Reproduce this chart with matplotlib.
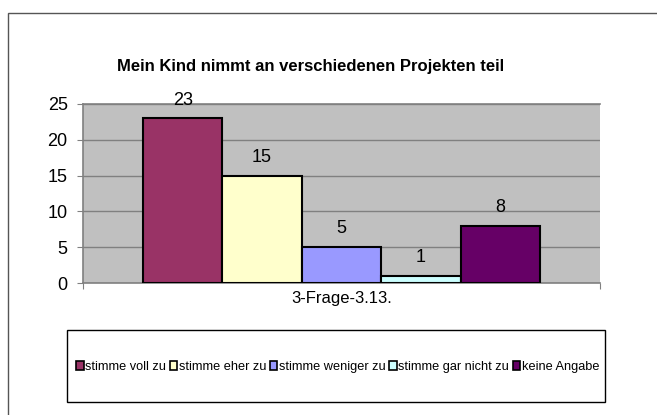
import matplotlib
matplotlib.use("Agg")
import matplotlib.pyplot as plt
from matplotlib.patches import Rectangle, Patch

plt.rcParams["font.family"] = ["Liberation Sans", "DejaVu Sans"]

# Daten aus der Vorlage
title = "Mein Kind nimmt an verschiedenen Projekten teil"
category = "3-Frage-3.13."
answers = ["stimme voll zu", "stimme eher zu", "stimme weniger zu",
           "stimme gar nicht zu", "keine Angabe"]
counts = [23, 15, 5, 1, 8]
colors = ["#993366", "#FFFFCC", "#9999FF", "#CCFFFF", "#660066"]
yticks = [0, 5, 10, 15, 20, 25]

W, H = 657, 415
fig = plt.figure(figsize=(W / 100, H / 100), dpi=100)

# äußerer Rahmen des Diagramms (rechts/unten abgeschnitten)
fig.patches.append(Rectangle((8 / W, -0.1), 1.2, (H - 13) / H + 0.1,
                             transform=fig.transFigure, fill=False,
                             edgecolor="#555555", linewidth=1.0))

ax = fig.add_axes([83 / W, (H - 283) / H, (600 - 83) / W, (283 - 104) / H])
ax.set_facecolor("#C0C0C0")

xs = list(range(len(counts)))
ax.bar(xs, counts, width=1.0, color=colors, edgecolor="black", linewidth=1.5, zorder=3)
for x, v in zip(xs, counts):
    ax.annotate(str(v), (x, v), xytext=(0, 7), textcoords="offset points",
                ha="center", va="bottom", fontsize=13)

ax.set_xlim(-1.256, 5.256)
ax.set_ylim(0, 25)
ax.set_yticks(yticks)
ax.set_yticklabels([str(t) for t in yticks], fontsize=13)
ax.yaxis.grid(True, color="#808080", linewidth=1.0, zorder=0)
ax.set_axisbelow(True)
ax.tick_params(axis="y", direction="out", length=4, color="#808080", pad=7)
ax.set_xticks([-1.256, 5.256])
ax.set_xticklabels(["", ""])
ax.tick_params(axis="x", direction="out", length=4, color="#808080")
ax.spines["right"].set_visible(False)
for side in ["top", "left", "bottom"]:
    ax.spines[side].set_color("#808080")
    ax.spines[side].set_linewidth(1.2)

ax.annotate(category, (2, 0), xycoords=("data", "axes fraction"),
            xytext=(0, -11), textcoords="offset points",
            ha="center", va="center", fontsize=12)

fig.text(311 / W, 1 - 67 / H, title, ha="center", va="center",
         fontsize=12, fontweight="bold")

# Legende im Kasten unten
handles = [Patch(facecolor=c, edgecolor="black", linewidth=1.2) for c in colors]
leg = fig.legend(handles, answers, loc="center",
                 bbox_to_anchor=((70 + 605) / 2 / W, 1 - 367 / H),
                 ncol=5, fontsize=9.2, frameon=False, handlelength=0.6,
                 handleheight=0.6, handletextpad=0.1, columnspacing=0.3)
fig.patches.append(Rectangle((67 / W, 1 - 402 / H), (605 - 67) / W, 72 / H,
                             transform=fig.transFigure, fill=False,
                             edgecolor="black", linewidth=1.0))

fig.savefig("out.png", dpi=100)
